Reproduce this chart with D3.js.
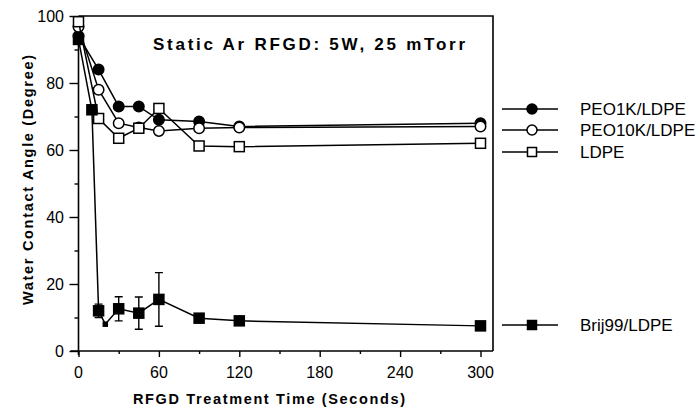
<!DOCTYPE html>
<html><head><meta charset="utf-8">
<script src="https://cdn.jsdelivr.net/npm/d3@7"></script>
<style>body{margin:0;background:#fff}svg{display:block}text{font-family:"Liberation Sans",Arial,sans-serif;fill:#000}</style>
</head><body><svg id="c" width="698" height="413"></svg>
<script>
const times1 = [0, 15, 30, 45, 60, 90, 120, 300];
const peo1k = [94, 84, 73, 73, 69, 68.5, 67, 68];
const peo10k = [96.8, 78, 68, 66.7, 65.7, 66.5, 66.7, 67];
const ldpe = [98.3, 69.4, 63.5, 66.5, 72.4, 61.2, 61, 62];
const timesBrij = [0, 10, 15, 20, 30, 45, 60, 90, 120, 300];
const brij = [93, 72, 12, 8, 12.6, 11.3, 15.4, 9.8, 9, 7.5];
const brijErr = [0, 0, 2, 0, 3.6, 4.8, 8, 0, 0, 0];
const xTicks = [0, 60, 120, 180, 240, 300];
const yTicks = [0, 20, 40, 60, 80, 100];
const legendNames = ["PEO1K/LDPE", "PEO10K/LDPE", "LDPE", "Brij99/LDPE"];

const svg = d3.select("#c");
const x = d3.scaleLinear().domain([0, 300]).range([78.5, 480.5]);
const y = d3.scaleLinear().domain([0, 100]).range([351, 16]);
const xRight = 493;

const g = svg.append("g");
g.append("path").attr("d", `M${x(0)},${y(100)}H${xRight}V${y(0)}`).attr("fill","none").attr("stroke","#000").attr("stroke-width",1.6);

const xAxis = g.append("g").attr("transform", `translate(0,${y(0)})`)
  .call(d3.axisBottom(x).tickValues(d3.range(0, 301, 30)).tickSize(6).tickFormat(""));
xAxis.select(".domain").attr("d", `M${x(0)-8},0H${xRight}`).attr("stroke-width",1.6);
xAxis.selectAll(".tick line").attr("stroke-width",1.4).attr("y2", d => d % 60 === 0 ? 6 : 3);
g.append("g").selectAll("text").data(xTicks).join("text")
  .attr("x", d => x(d)).attr("y", 378).attr("text-anchor","middle").attr("font-size",16).text(d => d);

const yAxis = g.append("g").attr("transform", `translate(${x(0)},0)`)
  .call(d3.axisLeft(y).tickValues(d3.range(0, 101, 10)).tickSize(9).tickFormat(""));
yAxis.select(".domain").attr("d", `M0,${y(0)+4}V${y(100)}`).attr("stroke-width",1.6);
yAxis.selectAll(".tick line").attr("stroke-width",1.4).attr("x2", d => d % 20 === 0 ? -9 : -4);
g.append("g").selectAll("text").data(yTicks).join("text")
  .attr("x", 64).attr("y", d => y(d) + 5.5).attr("text-anchor","end").attr("font-size",16).text(d => d);

svg.append("text").attr("x",153).attr("y",50).attr("font-size",17).attr("font-weight","bold")
  .attr("textLength",312).attr("lengthAdjust","spacing").text("Static Ar RFGD: 5W, 25 mTorr");
svg.append("text").attr("x",133).attr("y",404).attr("font-size",14.5).attr("font-weight","bold")
  .attr("textLength",272).attr("lengthAdjust","spacing").text("RFGD Treatment Time (Seconds)");
svg.append("text").attr("transform","translate(33,305) rotate(-90)").attr("font-size",14.5).attr("font-weight","bold")
  .attr("textLength",250).attr("lengthAdjust","spacing").text("Water Contact Angle (Degree)");

const line = d3.line().x(d => x(d[0])).y(d => y(d[1]));
const series = [
  {t: times1, v: peo1k, shape: "circle", fill: "#000"},
  {t: times1, v: peo10k, shape: "circle", fill: "#fff"},
  {t: times1, v: ldpe, shape: "square", fill: "#fff"},
  {t: timesBrij, v: brij, shape: "square", fill: "#000", err: brijErr}
];
const legendY = [109, 130, 152, 325];

function marker(sel, shape, fill, cx, cy, size) {
  if (shape === "circle") {
    sel.append("circle").attr("cx",cx).attr("cy",cy).attr("r",size/2)
      .attr("fill",fill).attr("stroke","#000").attr("stroke-width",1.5);
  } else {
    sel.append("rect").attr("x",cx-size/2).attr("y",cy-size/2).attr("width",size).attr("height",size)
      .attr("fill",fill).attr("stroke","#000").attr("stroke-width",1.5);
  }
}

series.forEach((s, i) => {
  const pts = s.t.map((t, j) => [t, s.v[j]]);
  svg.append("path").datum(pts).attr("d", line).attr("fill","none").attr("stroke","#000").attr("stroke-width",1.5);
  if (s.err) {
    pts.forEach((p, j) => {
      const e = s.err[j];
      if (e > 0) {
        const cx = x(p[0]);
        svg.append("path").attr("d",
          `M${cx},${y(p[1]+e)}V${y(p[1]-e)}M${cx-4},${y(p[1]+e)}H${cx+4}M${cx-4},${y(p[1]-e)}H${cx+4}`)
          .attr("stroke","#000").attr("stroke-width",1.4).attr("fill","none");
      }
    });
  }
  pts.forEach((p, j) => {
    const sz = (s.err && p[0] === 20) ? 4 : (s.shape === "circle" ? 10.5 : 10);
    marker(svg, s.shape, s.fill, x(p[0]), y(p[1]), sz);
  });
  const ly = legendY[i];
  svg.append("line").attr("x1",502).attr("x2",558).attr("y1",ly).attr("y2",ly).attr("stroke","#000").attr("stroke-width",1.5);
  marker(svg, s.shape, s.fill, 532, ly, s.shape === "circle" ? 10 : 9);
  svg.append("text").attr("x",580).attr("y",ly+6).attr("font-size",17).text(legendNames[i]);
});
</script></body></html>
